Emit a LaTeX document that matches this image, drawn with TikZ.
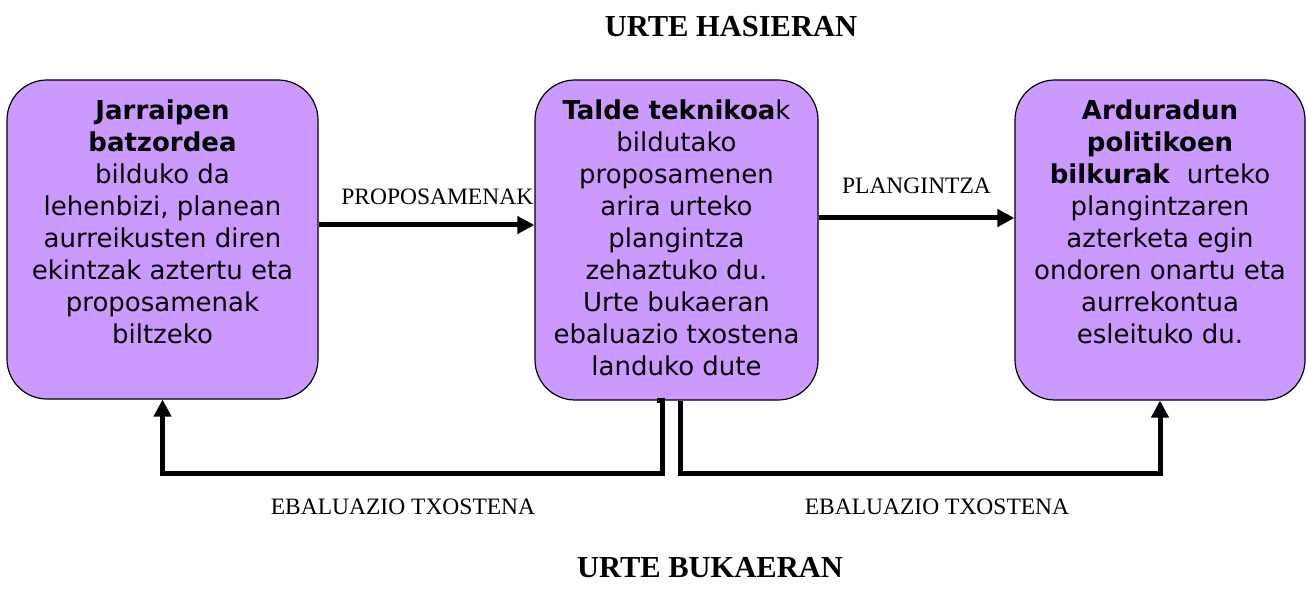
\documentclass[tikz,border=0pt]{standalone}
\usepackage{fontspec}
\setmainfont{Liberation Serif}
\newfontfamily\boxfont{DejaVu Sans}
\usetikzlibrary{arrows.meta,positioning}
\definecolor{lavender}{HTML}{CC99FF}

\begin{document}
\begin{tikzpicture}[x=1pt,y=-1pt,
box/.style={draw, line width=1.2pt, fill=lavender, rounded corners=40pt, inner sep=0pt},
boxtext/.style={align=center, anchor=north, font=\boxfont\fontsize{26}{32}\selectfont},
lbl/.style={font=\fontsize{23.5}{28}\selectfont},
head/.style={font=\bfseries\fontsize{30.5}{34}\selectfont},
flow/.style={line width=5pt, -{Triangle[length=17pt,width=17pt]}},
]
\useasboundingbox (0,0) rectangle (1306,593);

\node[head] (hasiera) at (731,27) {URTE HASIERAN};
\node[head] (bukaera) at (710,568) {URTE BUKAERAN};

\node[box, minimum width=311pt, minimum height=319pt] (jarr) at (162.5,239.5) {};
\node[box, minimum width=283pt, minimum height=320pt] (talde) at (676.5,240) {};
\node[box, minimum width=290pt, minimum height=320pt] (ardu) at (1160,240) {};

\node[boxtext] (jarrtxt) at (162.5,96) {\textbf{Jarraipen}\\ \textbf{batzordea}\\ bilduko da\\ lehenbizi, planean\\ aurreikusten diren\\ ekintzak aztertu eta\\ proposamenak\\ biltzeko};
\node[boxtext] (taldetxt) at (676.5,96) {\textbf{Talde teknikoa}k\\ bildutako\\ proposamenen\\ arira urteko\\ plangintza\\ zehaztuko du.\\ Urte bukaeran\\ ebaluazio txostena\\ landuko dute};
\node[boxtext] (ardutxt) at (1160,96) {\textbf{Arduradun}\\ \textbf{politikoen}\\ \textbf{bilkurak}\ \ urteko\\ plangintzaren\\ azterketa egin\\ ondoren onartu eta\\ aurrekontua\\ esleituko du.};

\draw[flow] (jarr.east |- 0,225) -- (talde.west |- 0,225)
  node[pos=0.55, above=14pt, lbl] (prop) {PROPOSAMENAK};
\draw[flow] (talde.east |- 0,218) -- (ardu.west |- 0,218)
  node[midway, above=18pt, lbl] (plan) {PLANGINTZA};

\draw[flow] ([xshift=-19.5pt]talde.south) -| ([xshift=-14.5pt,yshift=-73pt]talde.south) -| (jarr.south);
\draw[flow] ([xshift=3.5pt]talde.south) |- ([yshift=-73pt]ardu.south) -- (ardu.south);

\node[lbl] (ebal1) at (403,507) {EBALUAZIO TXOSTENA};
\node[lbl] (ebal2) at (937,507) {EBALUAZIO TXOSTENA};
\end{tikzpicture}
\end{document}
